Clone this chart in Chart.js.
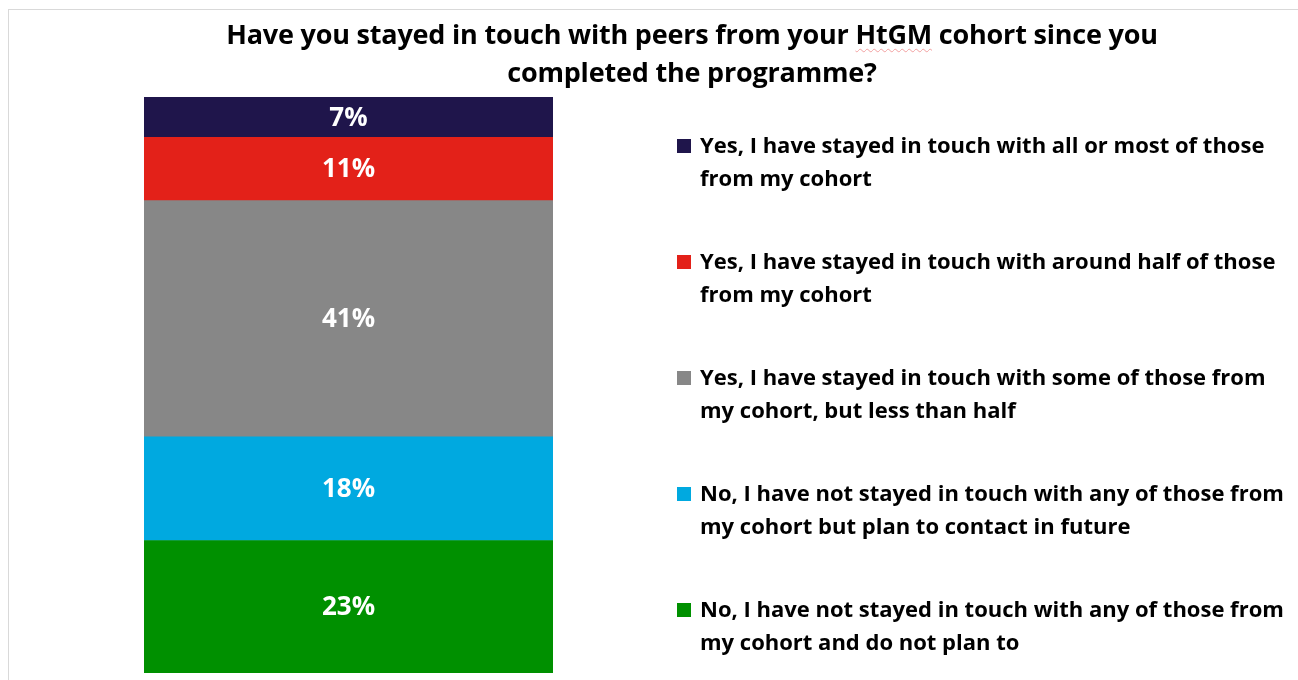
<!DOCTYPE html>
<html>
<head>
<meta charset="utf-8">
<script src="https://cdn.jsdelivr.net/npm/chart.js@4"></script>
<style>
  html, body { margin: 0; padding: 0; background: #fff; }
  body { width: 1298px; height: 680px; position: relative; overflow: hidden; font-family: 'Open Sans', Lato, sans-serif; }
  .frame { position: absolute; left: 8px; top: 9px; width: 1300px; height: 700px; border: 1px solid #d9d9d9; box-sizing: border-box; }
  #chartWrap { position: absolute; left: 0; top: 0; width: 1298px; height: 680px; }
  .title { position: absolute; left: 192px; width: 1000px; top: 15px; text-align: center; font-weight: bold; font-size: 27px; line-height: 38px; color: #000; letter-spacing: -0.2px; }
  .title .spell { text-decoration: underline wavy #f2a0a0; text-decoration-thickness: 1px; text-underline-offset: 4px; }
  #legend { position: absolute; left: 677px; top: 128px; width: 618px; }
  .item { position: relative; padding-left: 23px; font-weight: bold; font-size: 22px; line-height: 33px; color: #000; height: 116px; letter-spacing: 0; }
  .item .box { position: absolute; left: 0; top: 11px; width: 14px; height: 14px; }
</style>
</head>
<body>
<div class="frame"></div>
<div id="chartWrap"><canvas id="stackChart"></canvas></div>
<div class="title">Have you stayed in touch with peers from your <span class="spell">HtGM</span> cohort since you<br>completed the programme?</div>
<div id="legend"></div>
<script>
// legend order (top to bottom)
const answers = [
    'Yes, I have stayed in touch with all or most of those from my cohort',
    'Yes, I have stayed in touch with around half of those from my cohort',
    'Yes, I have stayed in touch with some of those from my cohort, but less than half',
    'No, I have not stayed in touch with any of those from my cohort but plan to contact in future',
    'No, I have not stayed in touch with any of those from my cohort and do not plan to'
];
const shares = [7, 11, 41, 18, 23];
const colours = ['#1f154b', '#e32119', '#878787', '#00a9e0', '#009000'];

// legend
const legendEl = document.getElementById('legend');
answers.forEach(function(txt, i) {
    const row = document.createElement('div');
    row.className = 'item';
    const box = document.createElement('span');
    box.className = 'box';
    box.style.background = colours[i];
    row.appendChild(box);
    row.appendChild(document.createTextNode(txt));
    legendEl.appendChild(row);
});

// values in the middle of each segment
const segmentLabels = {
    id: 'segmentLabels',
    afterDatasetsDraw(chart) {
        const ctx = chart.ctx;
        ctx.save();
        ctx.fillStyle = '#ffffff';
        ctx.font = 'bold 26px "Open Sans", Lato, sans-serif';
        ctx.textAlign = 'center';
        ctx.textBaseline = 'middle';
        chart.data.datasets.forEach(function(ds, di) {
            chart.getDatasetMeta(di).data.forEach(function(bar, j) {
                const y = (bar.y + bar.base) / 2;
                ctx.fillText(ds.data[j] + '%', bar.x, y + 1);
            });
        });
        ctx.restore();
    }
};

// bottom of the stack is the last answer
const datasets = answers.map(function(a, i) {
    return {
        label: a,
        data: [shares[i]],
        backgroundColor: colours[i],
        borderWidth: 0,
        barPercentage: 1,
        categoryPercentage: 1
    };
}).reverse();

new Chart(document.getElementById('stackChart'), {
    type: 'bar',
    data: { labels: [''], datasets: datasets },
    options: {
        responsive: true,
        maintainAspectRatio: false,
        animation: false,
        layout: { padding: { left: 144, right: 745, top: 97, bottom: 7 } },
        scales: {
            x: { stacked: true, display: false },
            y: { stacked: true, display: false, min: 0, max: 100 }
        },
        plugins: {
            legend: { display: false },
            tooltip: { enabled: false }
        }
    },
    plugins: [segmentLabels]
});
</script>
</body>
</html>
